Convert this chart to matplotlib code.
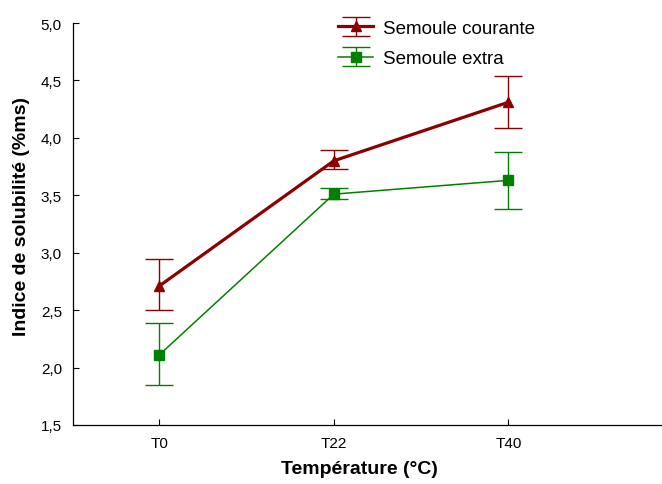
import numpy as np
import matplotlib.pyplot as plt

plt.rcParams['font.family'] = ['Liberation Sans', 'DejaVu Sans']

categories = ["T0", "T22", "T40"]
courante = [2.71, 3.80, 4.31]
courante_lo = [2.50, 3.73, 4.09]
courante_hi = [2.945, 3.89, 4.54]
extra = [2.11, 3.51, 3.63]
extra_lo = [1.85, 3.47, 3.38]
extra_hi = [2.39, 3.56, 3.88]

fig = plt.figure(figsize=(6.62, 4.85), dpi=100)
ax = fig.add_axes([73 / 662, 1 - 426 / 485, (662 - 73) / 662, (426 - 24) / 485])

x = np.arange(len(categories))


def draw(vals, lo, hi, color, marker, lw, label):
    vals = np.asarray(vals)
    err = [vals - np.asarray(lo), np.asarray(hi) - vals]
    return ax.errorbar(x, vals, yerr=err, color=color, ecolor=color, marker=marker,
                       markersize=7, linewidth=lw, elinewidth=1.0, capsize=10,
                       capthick=1.0, label=label, zorder=3)


h1 = draw(courante, courante_lo, courante_hi, "#8b0000", "^", 2.3, "Semoule courante")
h2 = draw(extra, extra_lo, extra_hi, "#008000", "s", 1.1, "Semoule extra")

ax.set_xlim(-0.494, 2.88)
ax.set_ylim(1.5, 5.0)
ax.set_xticks(x)
ax.set_xticklabels(categories, fontsize=11)
yt = np.arange(1.5, 5.01, 0.5)
ax.set_yticks(yt)
ax.set_yticklabels([f"{v:.1f}".replace(".", ",") for v in yt], fontsize=11)
ax.tick_params(direction="in", length=4, width=0.8, pad=8)
for side in ("top", "right"):
    ax.spines[side].set_visible(False)
for side in ("left", "bottom"):
    ax.spines[side].set_linewidth(0.9)

ax.set_xlabel("Température (°C)", fontsize=14, fontweight="bold")
ax.xaxis.set_label_coords((359 - 73) / (662 - 73), -(470 - 426) / (426 - 24), transform=ax.transAxes)
ax.set_ylabel("Indice de solubilité (%ms)", fontsize=14, fontweight="bold")
ax.yaxis.set_label_coords(-(73 - 22) / (662 - 73), (426 - 217) / (426 - 24), transform=ax.transAxes)
ax.yaxis.label.set_va("center")
ax.xaxis.label.set_va("center")

ax.legend(handles=[h1, h2], loc="upper left", bbox_to_anchor=(0.421, 1.05),
          frameon=False, fontsize=13.5, handlelength=1.9, labelspacing=0.7,
          handletextpad=0.5)

fig.savefig("out.png", dpi=100)
